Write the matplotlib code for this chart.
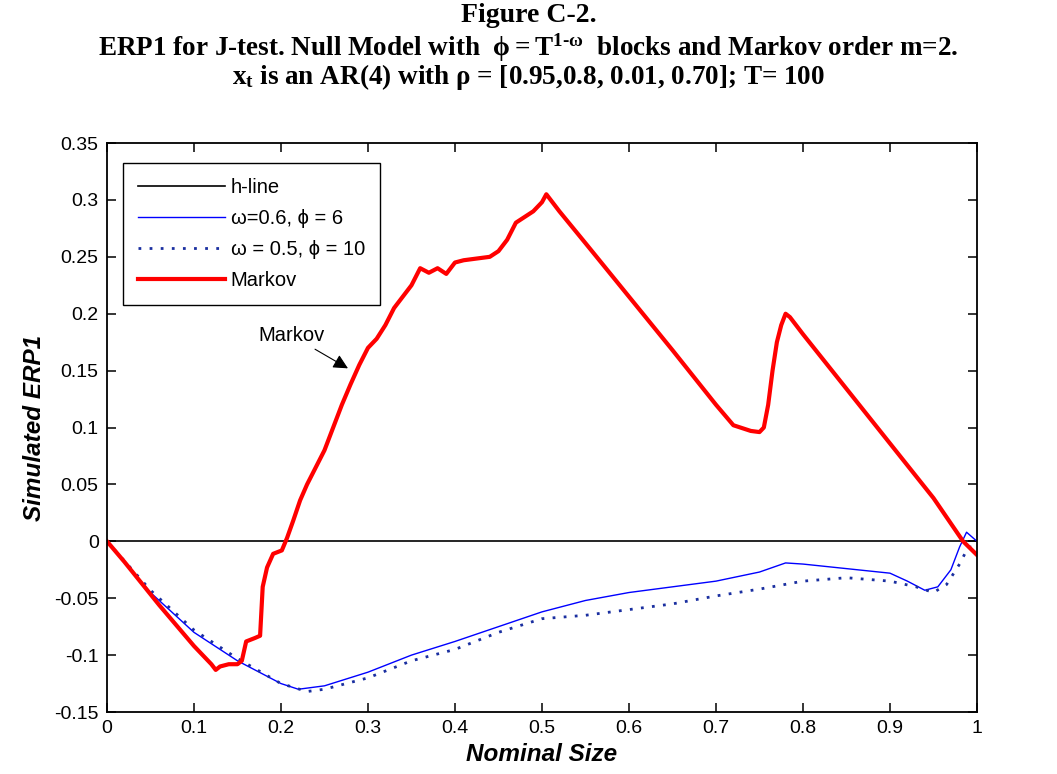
import matplotlib.pyplot as plt
from matplotlib.ticker import FuncFormatter

plt.rcParams['mathtext.fontset'] = 'custom'
plt.rcParams['mathtext.rm'] = 'Liberation Serif:bold'
plt.rcParams['mathtext.it'] = 'Liberation Serif:bold'
plt.rcParams['mathtext.bf'] = 'Liberation Serif:bold'

# Markov (red, thick)
markov_x = [0, 0.02, 0.04, 0.06, 0.08, 0.10, 0.12, 0.125, 0.13, 0.14, 0.15, 0.155,
            0.16, 0.17, 0.176, 0.179, 0.184, 0.191, 0.201, 0.207, 0.214, 0.222,
            0.23, 0.24, 0.25, 0.26, 0.27, 0.28, 0.29, 0.30, 0.31, 0.32, 0.33,
            0.34, 0.35, 0.36, 0.37, 0.38, 0.39, 0.40, 0.41, 0.42, 0.43, 0.44,
            0.45, 0.46, 0.47, 0.48, 0.49, 0.50, 0.505, 0.52, 0.55, 0.60, 0.65,
            0.70, 0.72, 0.74, 0.75, 0.755, 0.76, 0.765, 0.77, 0.775, 0.78,
            0.785, 0.80, 0.85, 0.90, 0.95, 0.984, 1.0]
markov_y = [0, -0.018, -0.037, -0.056, -0.074, -0.092, -0.108, -0.113, -0.11, -0.108,
            -0.108, -0.105, -0.088, -0.085, -0.083, -0.040, -0.023, -0.011, -0.008,
            0.003, 0.018, 0.036, 0.05, 0.065, 0.08, 0.1, 0.12, 0.138, 0.155, 0.17,
            0.178, 0.19, 0.205, 0.215, 0.225, 0.24, 0.236, 0.24, 0.235, 0.245,
            0.247, 0.248, 0.249, 0.25, 0.255, 0.265, 0.28, 0.285, 0.29, 0.298,
            0.305, 0.29, 0.262, 0.215, 0.168, 0.12, 0.102, 0.097, 0.096, 0.1,
            0.12, 0.15, 0.175, 0.19, 0.2, 0.197, 0.182, 0.134, 0.086, 0.038,
            0.0, -0.012]

# omega=0.6, phi=6 (blue solid)
blue_x = [0, 0.05, 0.10, 0.15, 0.20, 0.22, 0.25, 0.30, 0.35, 0.40, 0.45, 0.50,
          0.55, 0.60, 0.65, 0.70, 0.75, 0.78, 0.80, 0.85, 0.90, 0.92, 0.94,
          0.955, 0.97, 0.98, 0.988, 1.0]
blue_y = [0, -0.045, -0.08, -0.105, -0.125, -0.13, -0.127, -0.115, -0.1, -0.088,
          -0.075, -0.062, -0.052, -0.045, -0.04, -0.035, -0.027, -0.019, -0.02,
          -0.024, -0.028, -0.035, -0.043, -0.04, -0.025, -0.005, 0.008, 0.0]

# omega=0.5, phi=10 (blue dotted)
dot_x = [0, 0.05, 0.10, 0.15, 0.20, 0.23, 0.25, 0.30, 0.35, 0.40, 0.45, 0.50,
         0.55, 0.60, 0.65, 0.70, 0.75, 0.80, 0.85, 0.90, 0.93, 0.95, 0.965,
         0.98, 0.99, 1.0]
dot_y = [0, -0.043, -0.078, -0.103, -0.125, -0.132, -0.13, -0.12, -0.105, -0.095,
         -0.08, -0.068, -0.065, -0.06, -0.055, -0.048, -0.042, -0.035, -0.032,
         -0.035, -0.04, -0.045, -0.038, -0.02, -0.005, -0.005]

xticks = [0, 0.1, 0.2, 0.3, 0.4, 0.5, 0.6, 0.7, 0.8, 0.9, 1]
yticks = [-0.15, -0.1, -0.05, 0, 0.05, 0.1, 0.15, 0.2, 0.25, 0.3, 0.35]

fig = plt.figure(figsize=(10.57, 7.74), dpi=100)
ax = fig.add_axes([0.1012, 0.0801, 0.8231, 0.7351])

ax.plot([0, 1], [0, 0], color='black', lw=1.2, label='h-line')
ax.plot(blue_x, blue_y, color='blue', lw=1.0, label=r'ω=0.6, ϕ = 6')
ax.plot(dot_x, dot_y, color='#1a2fa0', lw=2.0, linestyle=(0, (1, 3)),
        label=r'ω = 0.5, ϕ = 10')
ax.plot(markov_x, markov_y, color='red', lw=3.0, label='Markov')

ax.annotate('Markov', xy=(0.277, 0.152), xytext=(0.174, 0.176),
            fontsize=14.5, family='Liberation Sans',
            arrowprops=dict(arrowstyle='-|>', color='black', lw=0.8,
                            mutation_scale=22, shrinkA=2, shrinkB=0))

ax.set_xlim(0, 1)
ax.set_ylim(-0.15, 0.35)
ax.set_xticks(xticks)
ax.set_yticks(yticks)
fmt = FuncFormatter(lambda v, p: '%g' % round(v, 2))
ax.xaxis.set_major_formatter(fmt)
ax.yaxis.set_major_formatter(fmt)
ax.tick_params(direction='in', top=True, right=True, length=6.5, width=1.1,
               labelsize=14, pad=6)
for lab in ax.get_xticklabels() + ax.get_yticklabels():
    lab.set_family('Liberation Sans')
for s in ax.spines.values():
    s.set_linewidth(1.3)

ax.set_xlabel('Nominal Size', fontsize=17.5, fontweight='bold', style='italic',
              family='Liberation Sans', labelpad=4)
ax.set_ylabel('Simulated ERP1', fontsize=17.5, fontweight='bold', style='italic',
              family='Liberation Sans', labelpad=6)

leg = ax.legend(loc='upper left', bbox_to_anchor=(0.0184, 0.965), borderaxespad=0,
                handlelength=4.3, fancybox=False, edgecolor='black', framealpha=1,
                borderpad=0.75, labelspacing=0.6, handletextpad=0.3,
                prop={'family': 'Liberation Sans', 'size': 14.5})
leg.get_frame().set_linewidth(1.0)

tfont = dict(family='Liberation Serif', fontweight='bold', ha='center', va='baseline')
fig.text(0.5, 0.9716, 'Figure C-2.', fontsize=20, **tfont)
fig.text(0.5, 0.928, r'ERP1 for J-test. Null Model with  $\phi = \mathrm{T}^{1\text{-}\omega}$  blocks and Markov order m=2.',
         fontsize=19.5, **tfont)
fig.text(0.5, 0.892, r'$\mathrm{x}_\mathrm{t}$ is an AR(4) with ρ = [0.95,0.8, 0.01, 0.70]; T= 100',
         fontsize=19.5, **tfont)

fig.savefig('out.png', dpi=100)
